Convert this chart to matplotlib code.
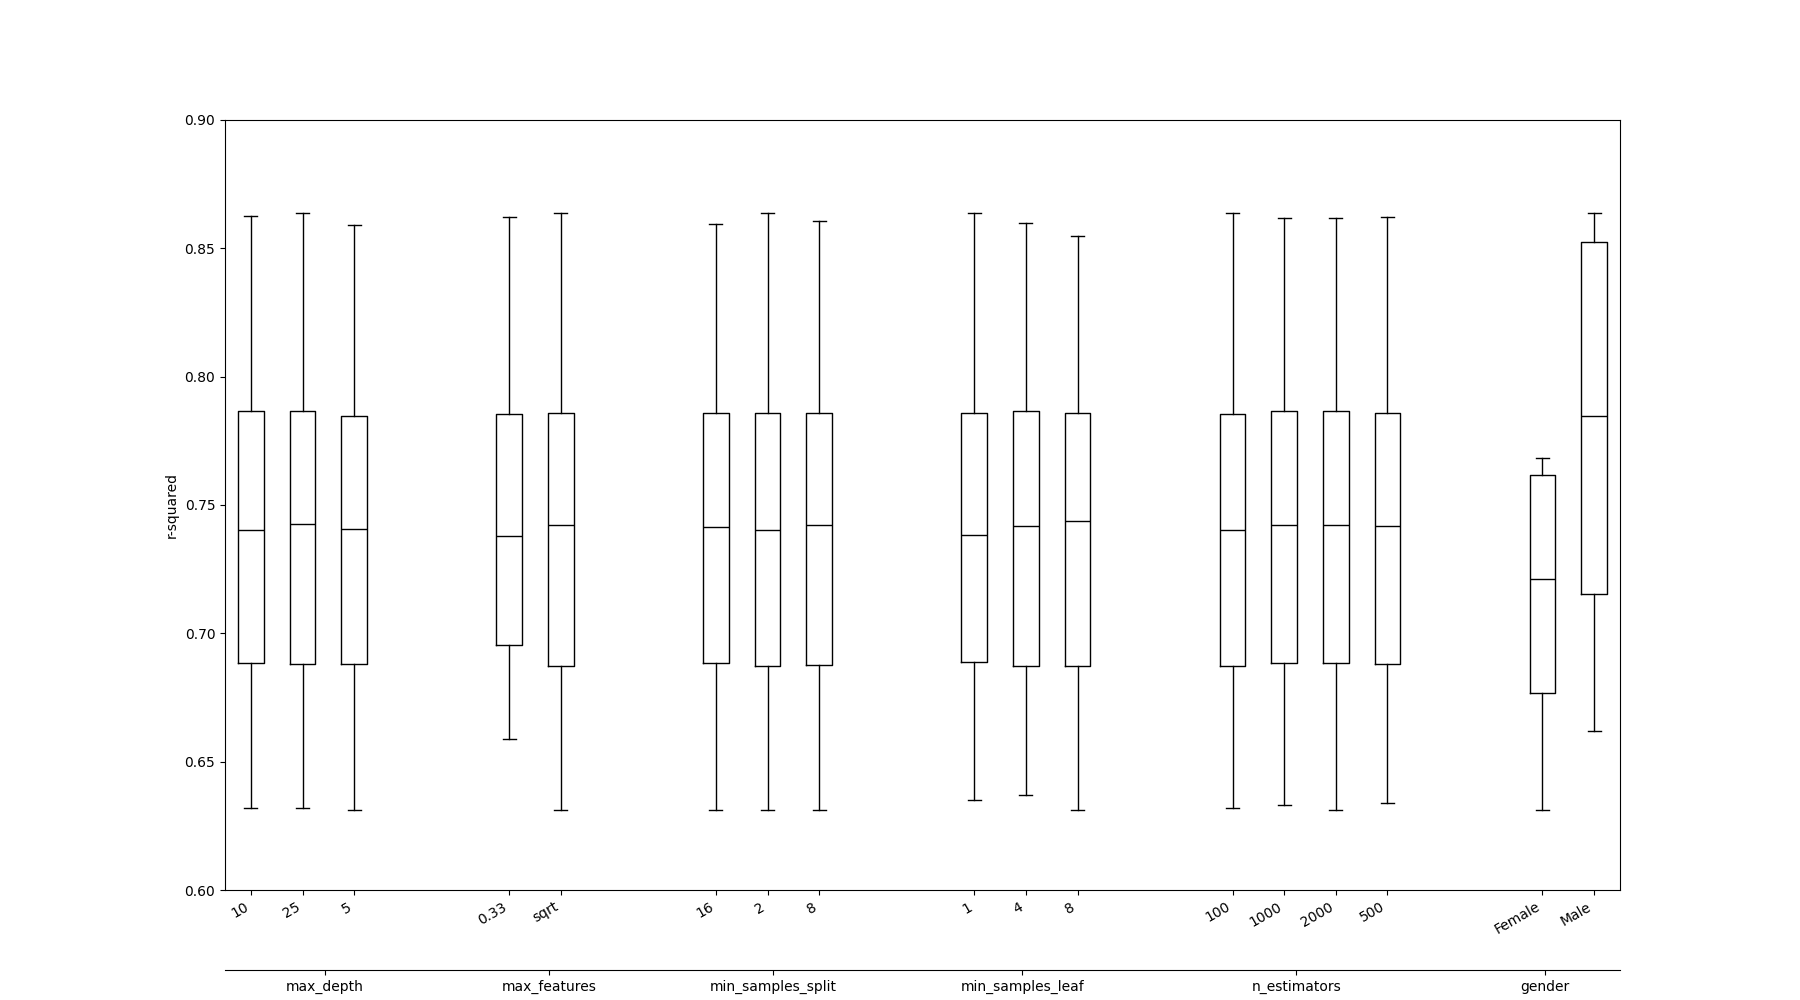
import matplotlib
matplotlib.use("Agg")
import matplotlib.pyplot as plt

# grupos de hiperparametros y sus niveles
groups = ["max_depth", "max_features", "min_samples_split",
          "min_samples_leaf", "n_estimators", "gender"]
levels = [["10", "25", "5"],
          ["0.33", "sqrt"],
          ["16", "2", "8"],
          ["1", "4", "8"],
          ["100", "1000", "2000", "500"],
          ["Female", "Male"]]

# estadisticos (r-squared), en orden de cajas
whislo = [0.632, 0.632, 0.631,
          0.659, 0.631,
          0.631, 0.631, 0.631,
          0.635, 0.637, 0.631,
          0.632, 0.633, 0.631, 0.634,
          0.631, 0.662]
q1 = [0.6886, 0.6882, 0.6882,
      0.6956, 0.6874,
      0.6884, 0.6873, 0.6878,
      0.6888, 0.6873, 0.6874,
      0.6873, 0.6884, 0.6884, 0.6882,
      0.6767, 0.7154]
med = [0.7403, 0.7425, 0.7407,
       0.7379, 0.7421,
       0.7415, 0.7402, 0.7424,
       0.7384, 0.7419, 0.7437,
       0.7402, 0.7421, 0.7421, 0.7419,
       0.7210, 0.7845]
q3 = [0.7868, 0.7868, 0.7848,
      0.7856, 0.7860,
      0.7858, 0.7858, 0.7858,
      0.7858, 0.7867, 0.7858,
      0.7854, 0.7867, 0.7867, 0.7858,
      0.7615, 0.8525]
whishi = [0.8627, 0.8638, 0.8589,
          0.8621, 0.8638,
          0.8593, 0.8637, 0.8606,
          0.8637, 0.8597, 0.8548,
          0.8637, 0.8619, 0.8619, 0.8624,
          0.7683, 0.8637]

# posiciones: dos huecos entre grupos
positions = []
centers = []
pos = 0
for lv in levels:
    grp = []
    for _ in lv:
        grp.append(pos)
        pos += 1
    positions += grp
    centers.append((grp[0] + grp[-1]) / 2)
    pos += 2

stats = []
for i in range(len(positions)):
    stats.append({"whislo": whislo[i], "q1": q1[i], "med": med[i],
                  "q3": q3[i], "whishi": whishi[i], "fliers": []})

fig, ax = plt.subplots(figsize=(18, 10), dpi=100)
black = dict(color="black")
ax.bxp(stats, positions=positions, widths=0.5, showfliers=False,
       boxprops=black, whiskerprops=black, capprops=black,
       medianprops=black)

tick_labels = [l for lv in levels for l in lv]
ax.set_xticks(positions)
ax.set_xticklabels(tick_labels, rotation=30, ha="right")
ax.set_xlim(-0.5, positions[-1] + 0.5)
ax.set_ylim(0.6, 0.9)
ax.set_yticks([0.60, 0.65, 0.70, 0.75, 0.80, 0.85, 0.90])
ax.set_yticklabels(["0.60", "0.65", "0.70", "0.75", "0.80", "0.85", "0.90"])
ax.set_ylabel("r-squared")

# segundo eje con los nombres de los grupos
ax2 = ax.twiny()
ax2.set_xlim(-1, positions[-1] + 1)
ax2.set_xticks(centers)
ax2.set_xticklabels(groups)
ax2.xaxis.set_ticks_position("bottom")
ax2.xaxis.set_label_position("bottom")
ax2.spines["bottom"].set_position(("outward", 57.6))
for s in ["top", "left", "right"]:
    ax2.spines[s].set_visible(False)

plt.savefig("out.png")
plt.close()
